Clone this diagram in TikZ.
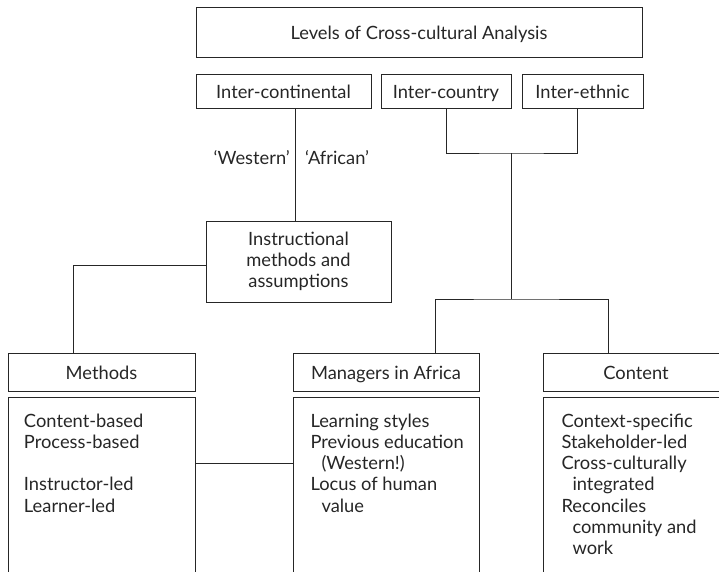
\documentclass[tikz,border=0pt]{standalone}
\usepackage{fontspec}
\setmainfont{Lato}
\tikzset{
    box/.style={draw, line width=1pt, inner sep=0pt, minimum height=34pt, align=center}, % boxes with a title
    oneline/.style={box, text height=18pt, text depth=3pt}, % keeps one-line titles on the same baseline
    listbox/.style={draw, line width=1pt, inner sep=0pt, anchor=north west}, % open lists at the bottom
    link/.style={line width=1pt}
}
\newcommand{\itemlist}[2]{\parbox[t][175pt][t]{186pt}{\leftskip=#1\rule{0pt}{29.5pt}#2}}
\newcommand{\more}{\hspace*{11pt}}

\begin{document}
\begin{tikzpicture}[x=1pt, y=-1pt, font=\fontsize{18.3}{21.3}\selectfont, color=black!85]
    \useasboundingbox (0,0) rectangle (719,571);
    \clip (0,0) rectangle (719,571);

    % levels
    \node[oneline, minimum width=446pt, minimum height=50pt] (levels) at (419,32) {Levels of Cross-cultural Analysis};
    \node[oneline, minimum width=175pt] (continental) at (283.5,91) {Inter-continental};
    \node[oneline, minimum width=130pt] (country) at (446,91) {Inter-country};
    \node[oneline, minimum width=121pt] (ethnic) at (582.5,91) {Inter-ethnic};

    \node[box, minimum width=185pt, minimum height=81pt] (instr) at (298.5,261.5) {Instructional\\methods and\\assumptions};

    \node[oneline, minimum width=187pt, minimum height=38pt] (methods) at (101.5,372) {Methods};
    \node[oneline, minimum width=186pt, minimum height=38pt] (managers) at (386,372) {Managers in Africa};
    \node[oneline, minimum width=186pt, minimum height=38pt] (content) at (636,372) {Content};

    \node[listbox, minimum width=187pt] (mlist) at (8,397) {\itemlist{15pt}{Content-based\\Process-based\\[\baselineskip]Instructor-led\\Learner-led}};
    \node[listbox, minimum width=186pt] (alist) at (293,397) {\itemlist{17pt}{Learning styles\\Previous education\\\more(Western!)\\Locus of human\\\more value}};
    \node[listbox, minimum width=186pt] (clist) at (543,397) {\itemlist{18pt}{Context-specific\\Stakeholder-led\\Cross-culturally\\\more integrated\\Reconciles\\\more community and\\\more work}};

    % labels on the inter-continental line
    \node[inner sep=0pt, anchor=east] (western) at (290,158) {‘Western’};
    \node[inner sep=0pt, anchor=west] (african) at (305,158) {‘African’};

    % connectors
    \coordinate (upjoin) at (511,153);
    \coordinate (downjoin) at (511,299);
    \coordinate (side) at (0,463);
    \draw[link] ([xshift=11.5pt]continental.south) -- ([xshift=11.5pt]continental.south |- instr.north);
    \draw[link] (country.south) |- (upjoin) -| ([xshift=-5.5pt]ethnic.south);
    \draw[link] (upjoin) -- (downjoin);
    \draw[link] ([xshift=49pt]managers.north) |- (downjoin) -| ([xshift=-28pt]content.north);
    \draw[link] ([yshift=-3.5pt]instr.west) -| ([xshift=-28.5pt]methods.north);
    \draw[link] (mlist.east |- side) -- (alist.west |- side);
\end{tikzpicture}
\end{document}
